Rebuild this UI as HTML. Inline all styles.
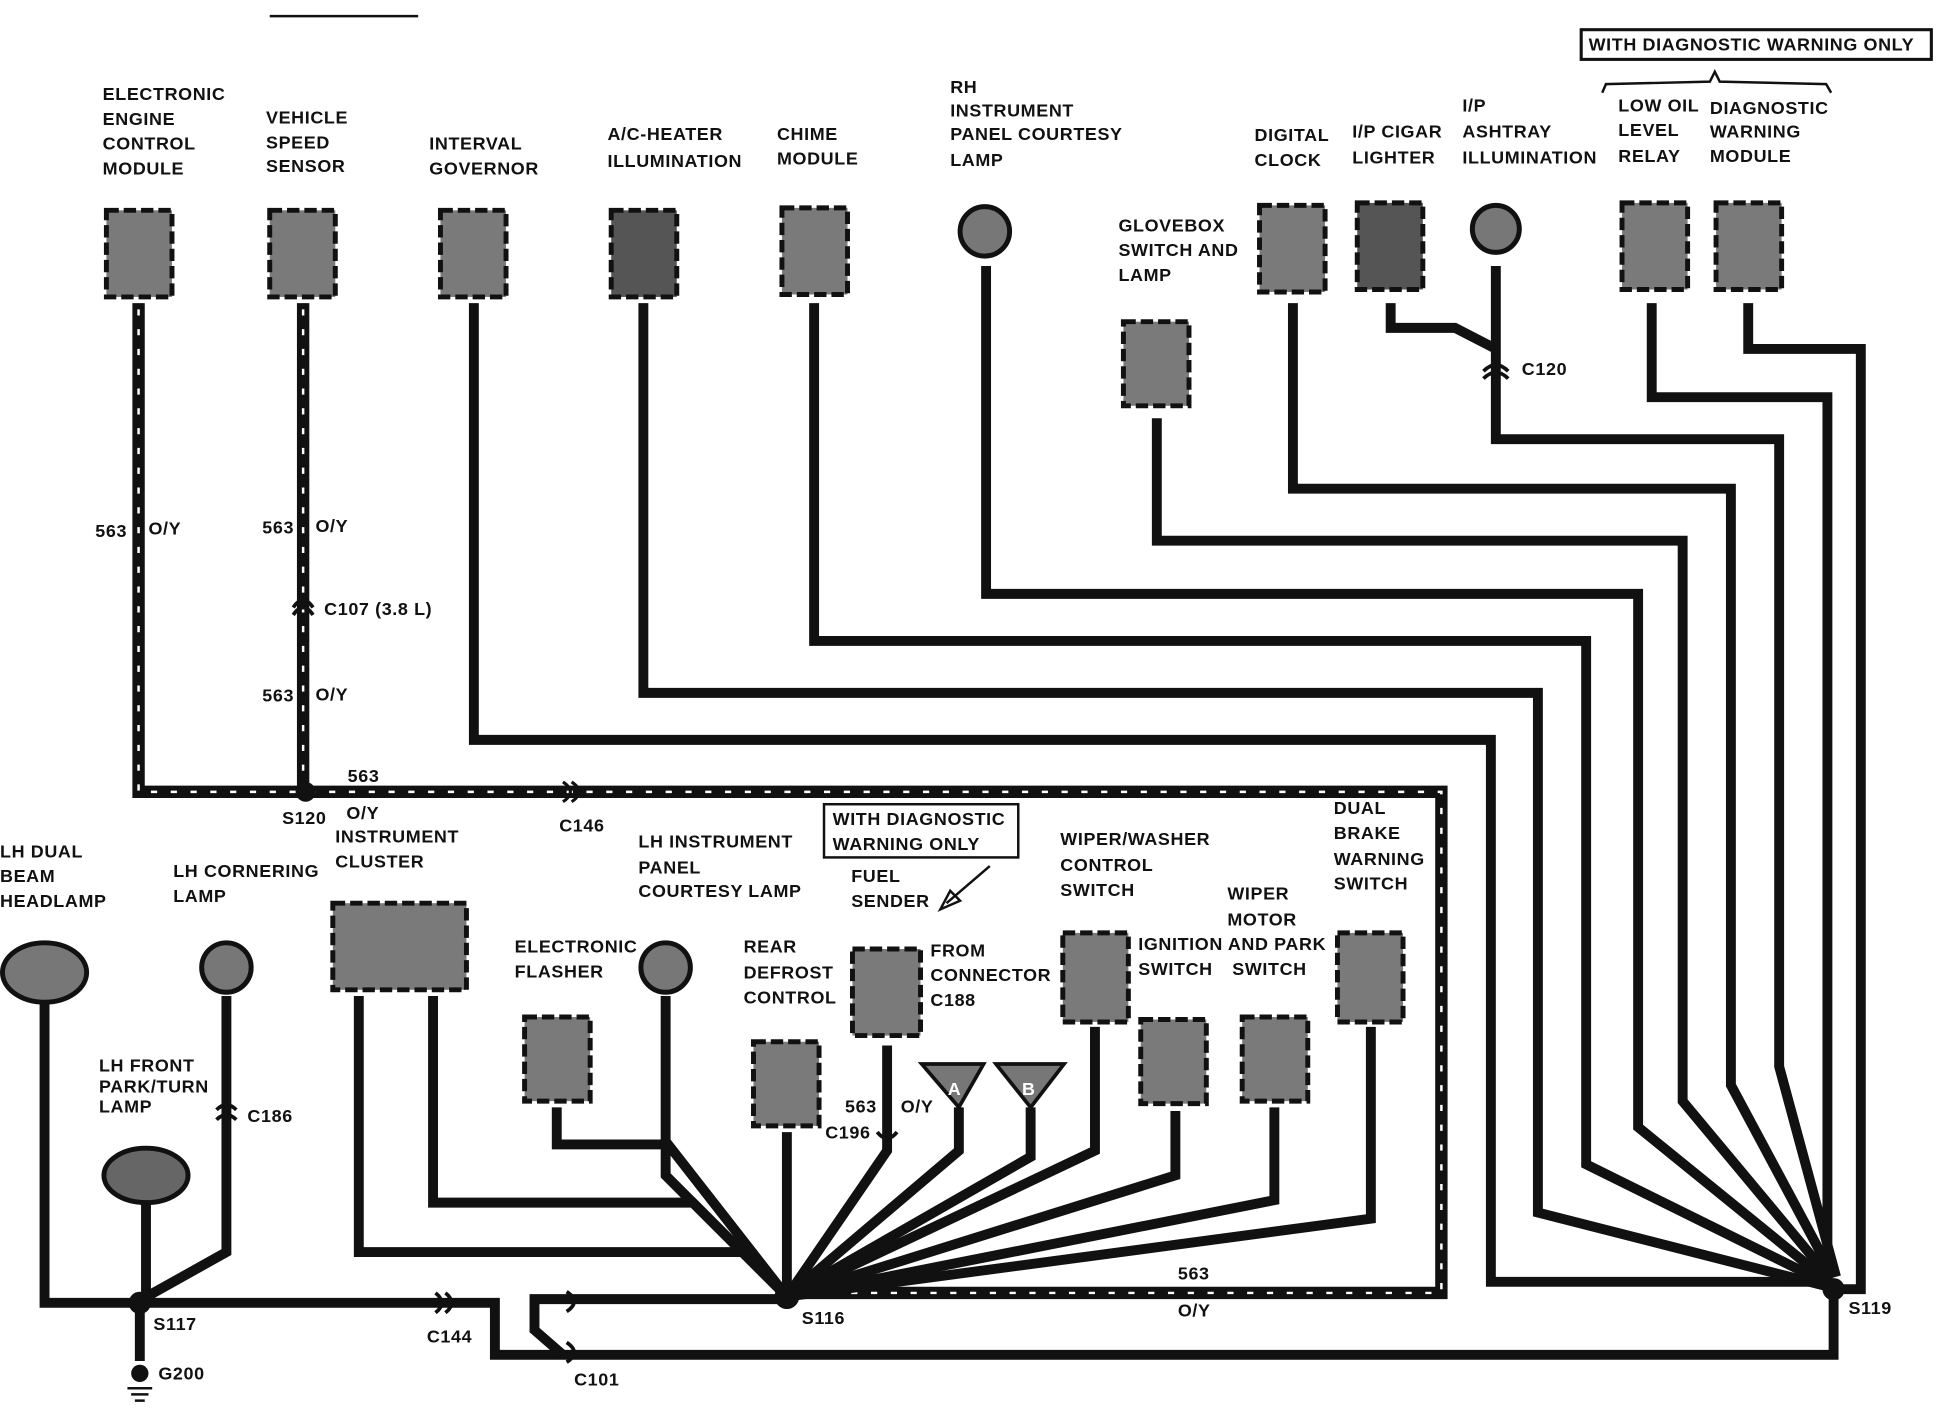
<!DOCTYPE html>
<html><head><meta charset="utf-8"><style>
html,body{margin:0;padding:0;background:#fff;}
svg{display:block}
text{font-family:"Liberation Sans",sans-serif;font-weight:bold;font-size:14.5px;fill:#111;letter-spacing:0.5px}
.w{fill:none;stroke:#111;stroke-width:8;stroke-linejoin:miter}
.hb{fill:none;stroke:#111;stroke-width:10}
.hw{fill:none;stroke:#fff;stroke-width:2;stroke-dasharray:5 11}
.box{fill:#7a7a7a;stroke:#111;stroke-width:4;stroke-dasharray:10 4}
.dk{fill:#555}
</style></head><body>
<svg width="1940" height="1408" viewBox="0 0 1568 1138" preserveAspectRatio="none">
<line x1="218" y1="13" x2="338" y2="13" stroke="#111" stroke-width="2"/>
<!-- top labels -->
<rect x="1278" y="24" width="283" height="24" fill="none" stroke="#111" stroke-width="2.5"/>
<text x="1284" y="41">WITH DIAGNOSTIC WARNING ONLY</text>
<path d="M1295 75 L1298 68 L1382 66 L1386 58 L1390 66 L1476 68 L1480 75" fill="none" stroke="#111" stroke-width="2"/>
<text x="83" y="81">ELECTRONIC</text><text x="83" y="101">ENGINE</text><text x="83" y="121">CONTROL</text><text x="83" y="141">MODULE</text>
<text x="215" y="100">VEHICLE</text><text x="215" y="120">SPEED</text><text x="215" y="139">SENSOR</text>
<text x="347" y="121">INTERVAL</text><text x="347" y="141">GOVERNOR</text>
<text x="491" y="113">A/C-HEATER</text><text x="491" y="135">ILLUMINATION</text>
<text x="628" y="113">CHIME</text><text x="628" y="133">MODULE</text>
<text x="768" y="75">RH</text><text x="768" y="94">INSTRUMENT</text><text x="768" y="113">PANEL COURTESY</text><text x="768" y="134">LAMP</text>
<text x="904" y="187">GLOVEBOX</text><text x="904" y="207">SWITCH AND</text><text x="904" y="227">LAMP</text>
<text x="1014" y="114">DIGITAL</text><text x="1014" y="134">CLOCK</text>
<text x="1093" y="111">I/P CIGAR</text><text x="1093" y="132">LIGHTER</text>
<text x="1182" y="90">I/P</text><text x="1182" y="111">ASHTRAY</text><text x="1182" y="132">ILLUMINATION</text>
<text x="1308" y="90">LOW OIL</text><text x="1308" y="110">LEVEL</text><text x="1308" y="131">RELAY</text>
<text x="1382" y="92">DIAGNOSTIC</text><text x="1382" y="111">WARNING</text><text x="1382" y="131">MODULE</text>
<!-- top wires -->
<path class="w" d="M383 245 V598 H1205 V1036 H1480"/>
<path class="w" d="M520 245 V560 H1243 V980 L1478 1040"/>
<path class="w" d="M658 245 V518 H1282 V941 L1478 1038"/>
<path class="w" d="M797 215 V480 H1324 V911 L1478 1036"/>
<path class="w" d="M935 338 V437 H1360 V890 L1480 1034"/>
<path class="w" d="M1045 245 V395 H1399 V877 L1482 1032"/>
<path class="w" d="M1124 245 V265 H1176 L1209 282"/>
<path class="w" d="M1209 215 V355 H1438 V862 L1484 1032"/>
<path class="w" d="M1335 245 V321 H1477 V1040"/>
<path class="w" d="M1413 245 V282 H1504 V1042 H1484"/>
<path d="M1199 300 Q1209 290 1219 300 M1199 306 Q1209 296 1219 306" fill="none" stroke="#111" stroke-width="3"/>
<text x="1230" y="303">C120</text>
<!-- top components -->
<rect class="box" x="86" y="170" width="53" height="70"/>
<rect class="box" x="218" y="170" width="53" height="70"/>
<rect class="box" x="356" y="170" width="53" height="70"/>
<rect class="box dk" x="494" y="170" width="53" height="70"/>
<rect class="box" x="632" y="168" width="53" height="70"/>
<circle cx="796" cy="187" r="20" fill="#777" stroke="#111" stroke-width="4"/>
<rect class="box" x="908" y="260" width="53" height="68"/>
<rect class="box" x="1018" y="166" width="53" height="70"/>
<rect class="box dk" x="1097" y="164" width="53" height="70"/>
<circle cx="1209" cy="185" r="19" fill="#777" stroke="#111" stroke-width="4"/>
<rect class="box" x="1311" y="164" width="53" height="70"/>
<rect class="box" x="1387" y="164" width="53" height="70"/>
<!-- hashed 563 -->
<path class="hb" d="M112 245 V640 H1165 V1045 H636"/>
<path class="hb" d="M245 245 V640"/>
<path class="hw" d="M112 250 V640 H1165 V1045 H640"/>
<path class="hw" d="M245 250 V640"/>
<path d="M237 497 Q245 485 253 497 M237 491 Q245 479 253 491" fill="none" stroke="#111" stroke-width="3"/>
<path d="M455 632 Q467 640 455 648 M462 632 Q474 640 462 648" fill="none" stroke="#111" stroke-width="2.5"/>
<text x="77" y="434">563</text><text x="120" y="432">O/Y</text>
<text x="212" y="431">563</text><text x="255" y="430">O/Y</text>
<text x="262" y="497">C107 (3.8 L)</text>
<text x="212" y="567">563</text><text x="255" y="566">O/Y</text>
<text x="281" y="632">563</text><text x="280" y="662">O/Y</text>
<circle cx="247" cy="640" r="8" fill="#111"/>
<text x="228" y="666">S120</text>
<text x="452" y="672">C146</text>
<text x="952" y="1034">563</text><text x="952" y="1064">O/Y</text>
<!-- bottom labels -->
<text x="0" y="693">LH DUAL</text><text x="0" y="713">BEAM</text><text x="0" y="733">HEADLAMP</text>
<text x="140" y="709">LH CORNERING</text><text x="140" y="729">LAMP</text>
<text x="271" y="681">INSTRUMENT</text><text x="271" y="701">CLUSTER</text>
<text x="516" y="685">LH INSTRUMENT</text><text x="516" y="706">PANEL</text><text x="516" y="725">COURTESY LAMP</text>
<rect x="666" y="650" width="157" height="43" fill="none" stroke="#111" stroke-width="2"/>
<text x="673" y="667">WITH DIAGNOSTIC</text><text x="673" y="687">WARNING ONLY</text>
<text x="688" y="713">FUEL</text><text x="688" y="733">SENDER</text>
<path d="M800 700 L765 730 M760 735 L776 728 L768 720 Z" stroke="#111" stroke-width="2" fill="#fff"/>
<text x="857" y="683">WIPER/WASHER</text><text x="857" y="704">CONTROL</text><text x="857" y="724">SWITCH</text>
<text x="1078" y="658">DUAL</text><text x="1078" y="678">BRAKE</text><text x="1078" y="699">WARNING</text><text x="1078" y="719">SWITCH</text>
<text x="992" y="727">WIPER</text><text x="992" y="748">MOTOR</text>
<text x="920" y="768">IGNITION AND PARK</text><text x="920" y="788">SWITCH</text><text x="996" y="788">SWITCH</text>
<text x="416" y="770">ELECTRONIC</text><text x="416" y="790">FLASHER</text>
<text x="601" y="770">REAR</text><text x="601" y="791">DEFROST</text><text x="601" y="811">CONTROL</text>
<text x="752" y="773">FROM</text><text x="752" y="793">CONNECTOR</text><text x="752" y="813">C188</text>
<text x="80" y="866">LH FRONT</text><text x="80" y="883">PARK/TURN</text><text x="80" y="899">LAMP</text>
<text x="200" y="907">C186</text>
<text x="683" y="899">563</text><text x="728" y="899">O/Y</text>
<text x="667" y="920">C196</text>
<!-- bottom wires -->
<path class="w" d="M36 810 V1053 H400 V1095 H1482 V1048"/>
<path class="w" d="M118 970 V1053 M113 1053 V1100"/>
<path class="w" d="M183 805 V1012 L115 1050"/>
<path class="w" d="M636 1050 H432 V1075 L455 1095"/>
<path class="w" d="M290 805 V1012 H600 L636 1048"/>
<path class="w" d="M350 805 V972 H560 L636 1048"/>
<path class="w" d="M450 895 V925 H540 L636 1048"/>
<path class="w" d="M538 805 V950 L636 1048"/>
<path class="w" d="M636 915 V1048"/>
<path class="w" d="M717 845 V930 L636 1048"/>
<path class="w" d="M775 895 V930 L636 1048"/>
<path class="w" d="M833 895 V935 L636 1048"/>
<path class="w" d="M885 830 V930 L636 1048"/>
<path class="w" d="M950 898 V950 L636 1048"/>
<path class="w" d="M1030 895 V970 L636 1048"/>
<path class="w" d="M1108 830 V985 L636 1048"/>
<path d="M352 1045 Q362 1053 352 1061 M360 1045 Q370 1053 360 1061" fill="none" stroke="#111" stroke-width="3"/>
<path d="M458 1044 Q470 1052 458 1060 M458 1085 Q470 1093 458 1101" fill="none" stroke="#111" stroke-width="3"/>
<path d="M175 897 Q183 889 191 897 M175 905 Q183 897 191 905" fill="none" stroke="#111" stroke-width="3"/>
<path d="M709 915 Q717 925 725 915" fill="none" stroke="#111" stroke-width="3"/>
<circle cx="113" cy="1053" r="9" fill="#111"/>
<circle cx="636" cy="1048" r="10" fill="#111"/>
<circle cx="1482" cy="1042" r="9" fill="#111"/>
<circle cx="113" cy="1110" r="7" fill="#111"/>
<path d="M103 1122 H123 M106 1127 H120 M109 1132 H117" stroke="#111" stroke-width="2"/>
<text x="124" y="1075">S117</text><text x="128" y="1115">G200</text>
<text x="345" y="1085">C144</text><text x="464" y="1120">C101</text>
<text x="648" y="1070">S116</text><text x="1494" y="1062">S119</text>
<!-- bottom components -->
<ellipse cx="36" cy="786" rx="34" ry="24" fill="#777" stroke="#111" stroke-width="4"/>
<circle cx="183" cy="782" r="20" fill="#777" stroke="#111" stroke-width="4"/>
<ellipse cx="118" cy="950" rx="34" ry="22" fill="#666" stroke="#111" stroke-width="4"/>
<rect class="box" x="269" y="730" width="108" height="70"/>
<rect class="box" x="424" y="822" width="53" height="68"/>
<circle cx="538" cy="782" r="20" fill="#777" stroke="#111" stroke-width="4"/>
<rect class="box" x="609" y="842" width="53" height="68"/>
<rect class="box" x="689" y="767" width="55" height="70"/>
<path d="M745 860 H795 L775 895 Z M805 860 H860 L833 895 Z" fill="#777" stroke="#111" stroke-width="3"/>
<text x="766" y="885" style="fill:#fff">A</text><text x="826" y="885" style="fill:#fff">B</text>
<rect class="box" x="859" y="754" width="53" height="72"/>
<rect class="box" x="922" y="824" width="53" height="68"/>
<rect class="box" x="1004" y="822" width="53" height="68"/>
<rect class="box" x="1081" y="754" width="53" height="72"/>
</svg>
</body></html>
